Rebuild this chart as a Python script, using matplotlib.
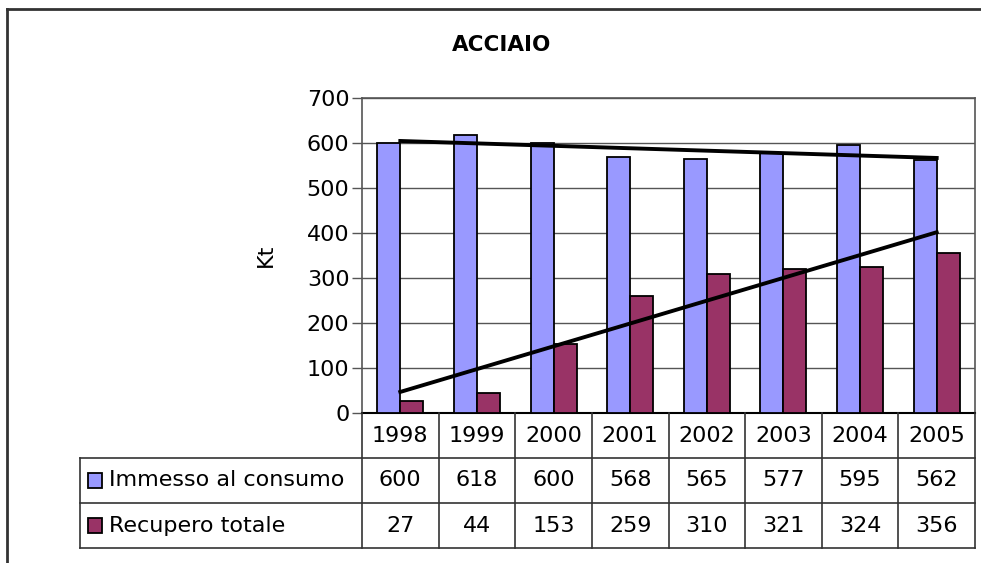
import numpy as np
import matplotlib.pyplot as plt
from matplotlib.lines import Line2D
from matplotlib.patches import Rectangle

plt.rcParams['font.family'] = ['DejaVu Sans']

# dati
anni = ['1998', '1999', '2000', '2001', '2002', '2003', '2004', '2005']
serie = ['Immesso al consumo', 'Recupero totale']
immesso = [600, 618, 600, 568, 565, 577, 595, 562]
recupero = [27, 44, 153, 259, 310, 321, 324, 356]
colori = ['#9999FF', '#993366']

W, H = 981, 563
FS = 16
fig = plt.figure(figsize=(W / 100, H / 100), dpi=100)

def px(x0, y0, x1, y1):
    # riquadro in pixel -> coordinate figura
    return [x0 / W, 1 - y1 / H, (x1 - x0) / W, (y1 - y0) / H]

# cornice esterna (solo bordo superiore e sinistro visibili)
fig.add_artist(Line2D([7 / W, 1], [1 - 9 / H, 1 - 9 / H], color='#333333', lw=2, transform=fig.transFigure))
fig.add_artist(Line2D([7 / W, 7 / W], [0, 1 - 9 / H], color='#333333', lw=2, transform=fig.transFigure))

ax = fig.add_axes(px(362, 98, 975, 413))
x = np.arange(len(anni))
larg = 0.3
ax.bar(x - larg / 2, immesso, larg, color=colori[0], edgecolor='black', linewidth=1.3, zorder=3)
ax.bar(x + larg / 2, recupero, larg, color=colori[1], edgecolor='black', linewidth=1.3, zorder=3)

# linee di tendenza lineari
for vals in (immesso, recupero):
    m, q = np.polyfit(x, vals, 1)
    ax.plot([x[0], x[-1]], [q, m * x[-1] + q], color='black', lw=2.8, zorder=4)

ax.set_xlim(-0.5, len(anni) - 0.5)
ax.set_ylim(0, 700)
ax.set_yticks(range(0, 701, 100))
ax.set_xticks([])
ax.yaxis.grid(True, color='#555555', lw=1)
ax.set_axisbelow(True)
for s in ax.spines.values():
    s.set_color('#555555')
    s.set_linewidth(1.2)
ax.spines['bottom'].set_color('black')
ax.spines['bottom'].set_linewidth(1.5)
ax.tick_params(axis='y', length=7, width=1, color='#555555', labelsize=FS, pad=2)
ax.set_ylabel('Kt', fontsize=FS)
ax.yaxis.set_label_coords((276 - 362) / 613, 0.5)

fig.text(502 / W, 1 - 45 / H, 'ACCIAIO', ha='center', va='center', fontsize=15.5, fontweight='bold')

# tabella dati sotto il grafico
tab = fig.add_axes(px(362, 413, 975, 548))
tab.set_xlim(-0.5, len(anni) - 0.5)
tab.set_ylim(3, 0)
tab.axis('off')
bordo = dict(color='#333333', lw=1.2, clip_on=False)
cw = 613 / len(anni)
sx = -0.5 - (362 - 80) / cw
for i in range(len(anni) + 1):
    tab.plot([i - 0.5, i - 0.5], [0, 3], **bordo)
for r in (1, 2, 3):
    tab.plot([sx, len(anni) - 0.5], [r, r], **bordo)
tab.plot([sx, sx], [1, 3], **bordo)

for i, a in enumerate(anni):
    tab.text(i, 0.5, a, ha='center', va='center', fontsize=FS)
    tab.text(i, 1.5, str(immesso[i]), ha='center', va='center', fontsize=FS)
    tab.text(i, 2.5, str(recupero[i]), ha='center', va='center', fontsize=FS)

for r, (nome, c) in enumerate(zip(serie, colori)):
    y = 1.5 + r
    tab.add_patch(Rectangle((sx + 8 / cw, y - 0.16), 14 / cw, 0.32, facecolor=c,
                            edgecolor='black', lw=1.3, clip_on=False))
    tab.text(sx + 29 / cw, y, nome, ha='left', va='center', fontsize=FS)

fig.savefig('out.png', dpi=100)
